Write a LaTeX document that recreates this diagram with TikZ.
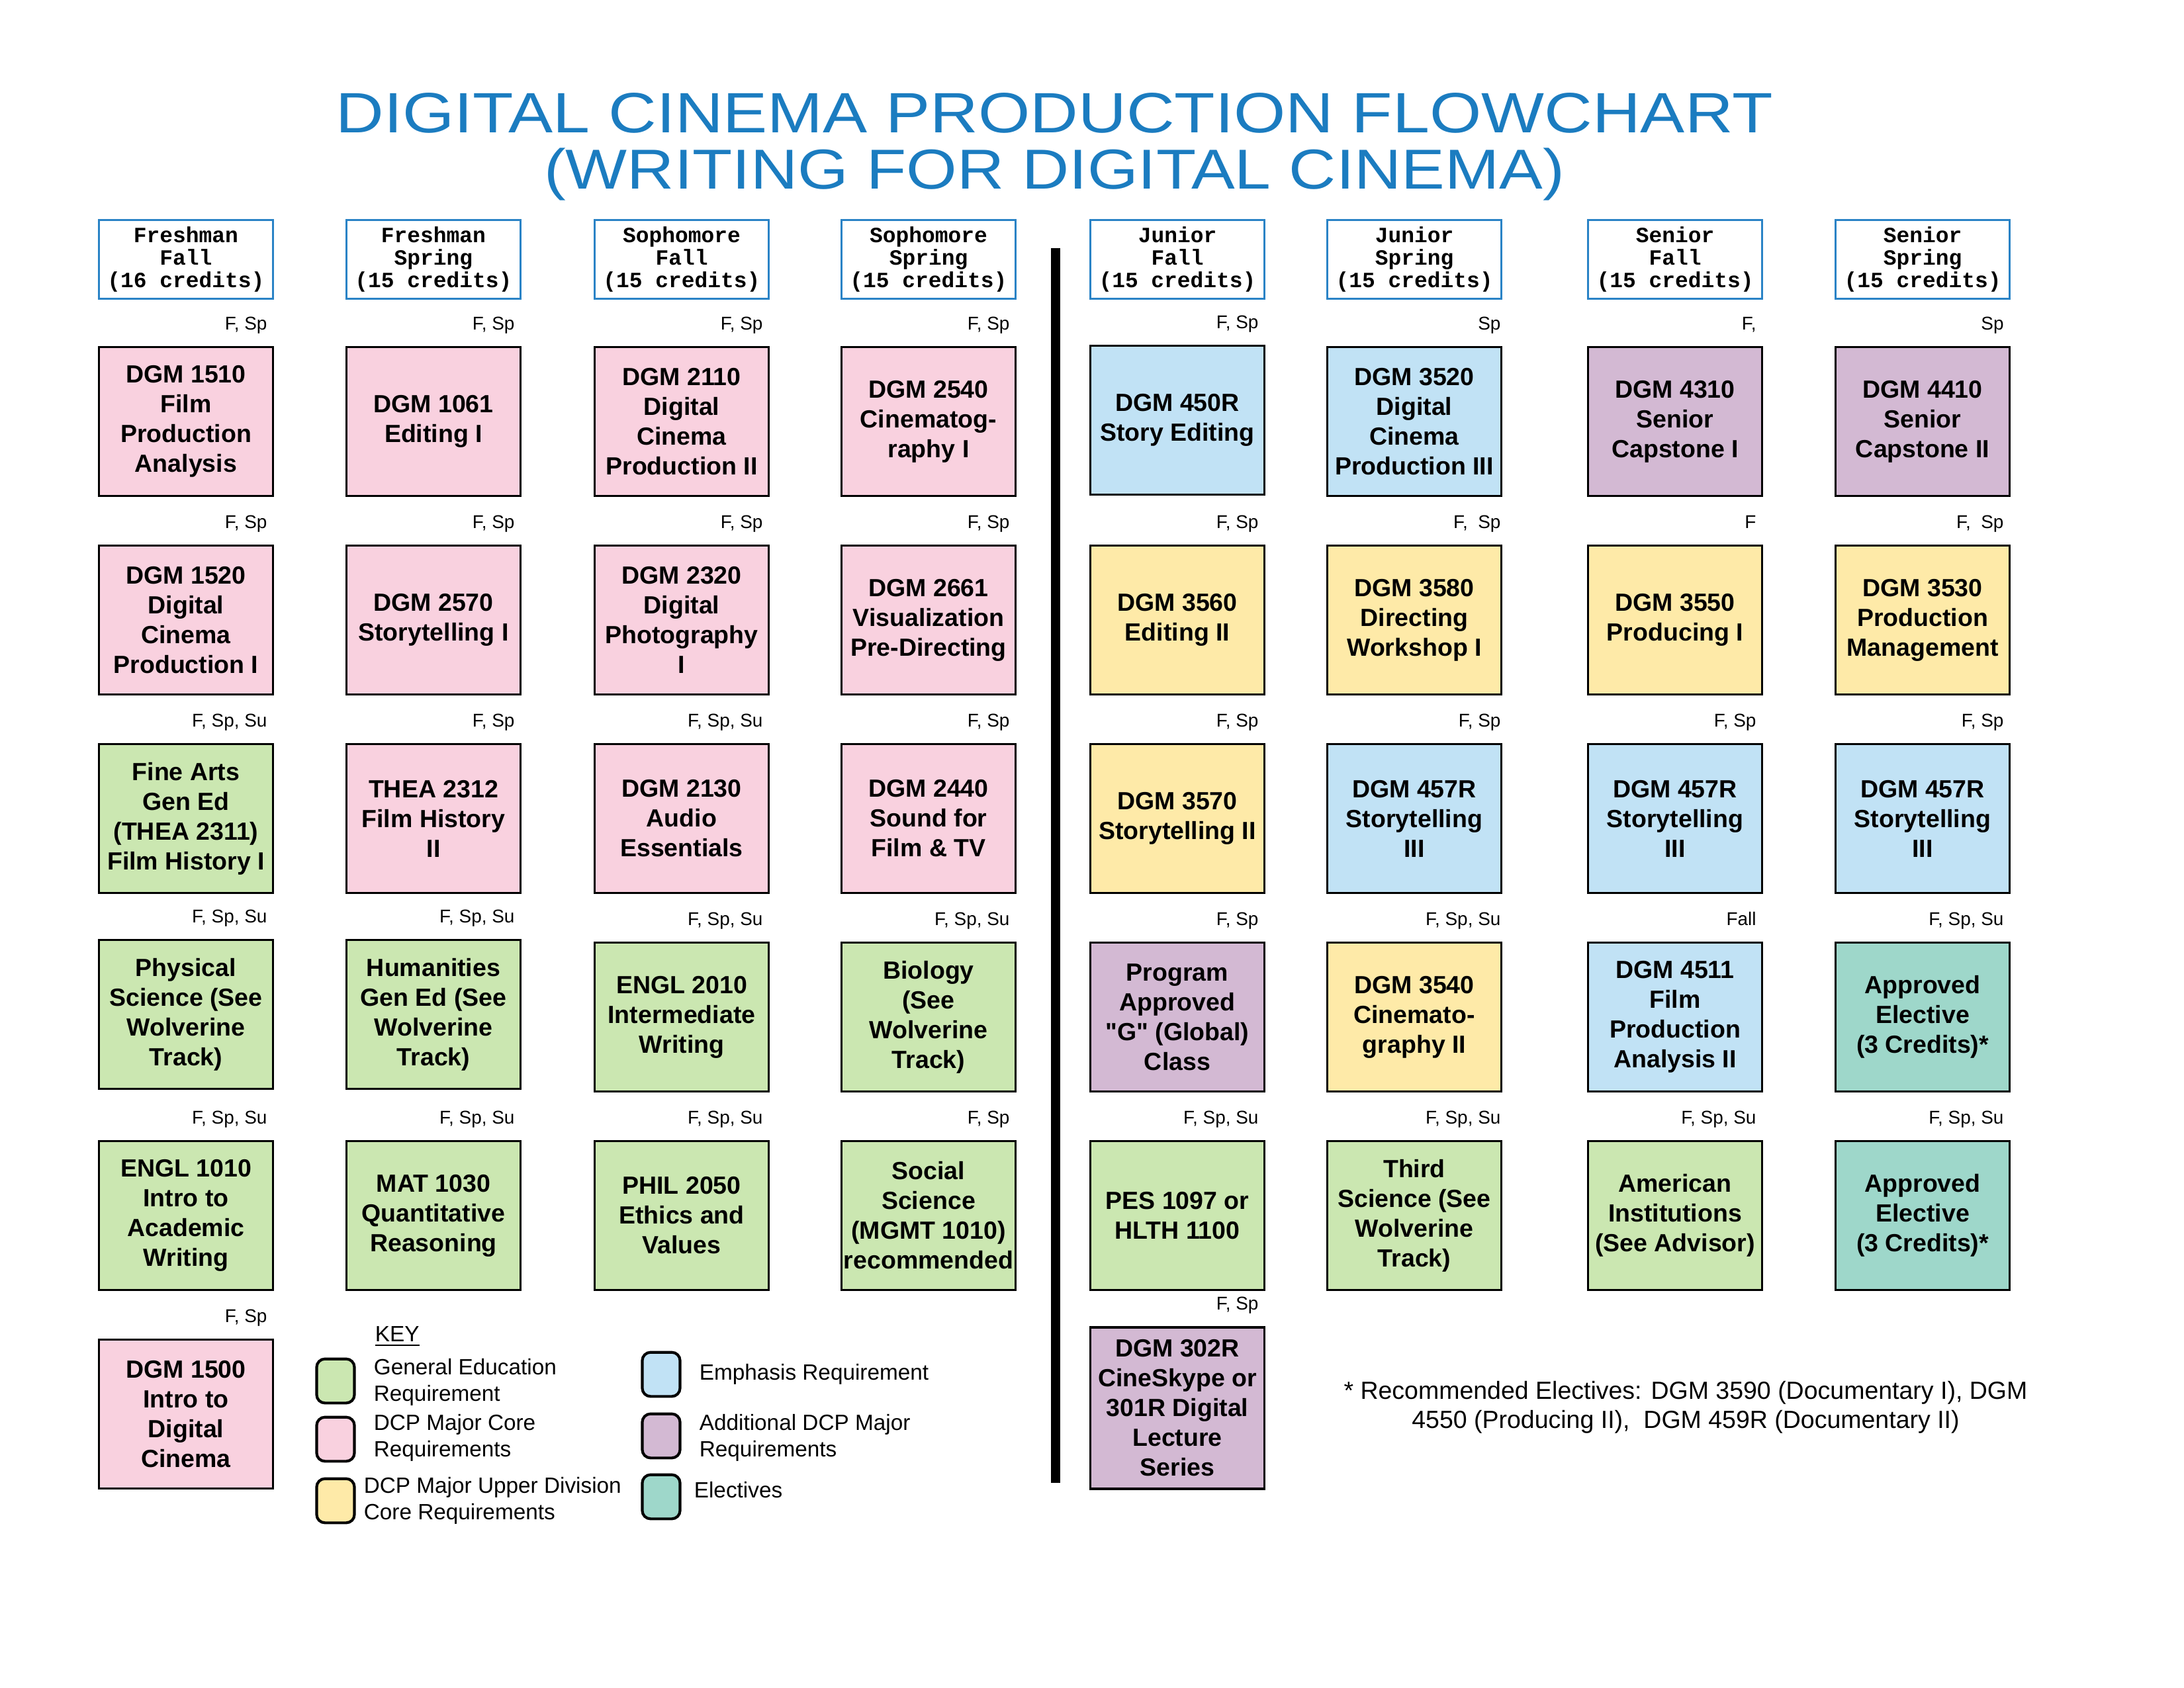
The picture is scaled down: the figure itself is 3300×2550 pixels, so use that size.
\documentclass[tikz,border=0pt]{standalone}
\usepackage{fontspec}
\setmainfont{Liberation Sans}
\newfontfamily\hdrfont{Liberation Mono}
\usepackage{xcolor}
\usetikzlibrary{calc, positioning}

\definecolor{titleblue}{HTML}{1B7CC0}
\definecolor{hdrblue}{HTML}{2A83C6}
\definecolor{corepink}{HTML}{F9D1DF}
\definecolor{genedgreen}{HTML}{CBE7B1}
\definecolor{emphblue}{HTML}{C1E2F5}
\definecolor{upperyellow}{HTML}{FEEAA8}
\definecolor{addpurple}{HTML}{D3B9D3}
\definecolor{electeal}{HTML}{9ED7CA}

\begin{document}
\begin{tikzpicture}[x=0.24pt, y=-0.24pt,
    course/.style={draw=black, line width=0.9pt, minimum width=63.1pt, minimum height=54pt,
        inner sep=0pt, align=center, font=\fontsize{9}{10.8}\selectfont\bfseries},
    core/.style={course, fill=corepink},
    gened/.style={course, fill=genedgreen},
    emph/.style={course, fill=emphblue},
    upper/.style={course, fill=upperyellow},
    addl/.style={course, fill=addpurple},
    elect/.style={course, fill=electeal},
    sem/.style={anchor=base east, inner sep=0pt, xshift=-2.4pt, yshift=5.9pt,
        font=\fontsize{6.7}{8}\selectfont},
    semr/.style={sem, xshift=1.9pt},
    term/.style={draw=hdrblue, line width=0.8pt, minimum width=63.1pt, minimum height=28.6pt,
        inner sep=0pt, align=center, font={\hdrfont\fontsize{7.9}{8.1}\selectfont\bfseries}},
    swatch/.style={draw=black, line width=1pt, rounded corners=3pt,
        minimum width=13.7pt, minimum height=16pt, inner sep=0pt},
    keytext/.style={anchor=west, inner sep=0pt, align=left, font=\fontsize{8}{9.6}\selectfont},
]
    \useasboundingbox (0,0) rectangle (3300,2550);

    % Title
    \node[text=titleblue, inner sep=0pt, anchor=base] (title1) at (1593,200)
        {\resizebox{521pt}{14.4pt}{DIGITAL CINEMA PRODUCTION FLOWCHART}};
    \node[text=titleblue, inner sep=0pt, anchor=base] (title2) at (1593,285)
        {\resizebox{370pt}{14.8pt}{(WRITING FOR DIGITAL CINEMA)}};

    % Semester headers
    \node[term] (hff) at (281,392) {Freshman\\Fall\\(16 credits)};
    \node[term] (hfs) at (655,392) {Freshman\\Spring\\(15 credits)};
    \node[term] (hsf) at (1030,392) {Sophomore\\Fall\\(15 credits)};
    \node[term] (hss) at (1403,392) {Sophomore\\Spring\\(15 credits)};
    \node[term] (hjf) at (1779,392) {Junior\\Fall\\(15 credits)};
    \node[term] (hjs) at (2137,392) {Junior\\Spring\\(15 credits)};
    \node[term] (hnf) at (2531,392) {Senior\\Fall\\(15 credits)};
    \node[term] (hns) at (2905,392) {Senior\\Spring\\(15 credits)};

    % Divider between the two halves
    \coordinate (divtop) at (1595,375);
    \coordinate (divbot) at (1595,2241);
    \draw[line width=3.4pt] (divtop) -- (divbot);

    % Freshman fall
    \node[core, label={[sem]north east:F, Sp}] (ff1) at (281,637) {DGM 1510\\Film\\Production\\Analysis};
    \node[core, label={[sem]north east:F, Sp}] (ff2) at (281,937) {DGM 1520\\Digital\\Cinema\\Production I};
    \node[gened, label={[sem]north east:F, Sp, Su}] (ff3) at (281,1237) {Fine Arts\\Gen Ed\\(THEA 2311)\\Film History I};
    \node[gened, label={[sem]north east:F, Sp, Su}] (ff4) at (281,1533) {Physical\\Science (See\\Wolverine\\Track)};
    \node[gened, label={[sem]north east:F, Sp, Su}] (ff5) at (281,1837) {ENGL 1010\\Intro to\\Academic\\Writing};
    \node[core, label={[sem]north east:F, Sp}] (ff6) at (281,2137) {DGM 1500\\Intro to\\Digital\\Cinema};

    % Freshman spring
    \node[core, label={[sem]north east:F, Sp}] (fs1) at (655,637) {DGM 1061\\Editing I};
    \node[core, label={[sem]north east:F, Sp}] (fs2) at (655,937) {DGM 2570\\Storytelling I};
    \node[core, label={[sem]north east:F, Sp}] (fs3) at (655,1237) {THEA 2312\\Film History\\II};
    \node[gened, label={[sem]north east:F, Sp, Su}] (fs4) at (655,1533) {Humanities\\Gen Ed (See\\Wolverine\\Track)};
    \node[gened, label={[sem]north east:F, Sp, Su}] (fs5) at (655,1837) {MAT 1030\\Quantitative\\Reasoning};

    % Sophomore fall
    \node[core, label={[sem]north east:F, Sp}] (sf1) at (1030,637) {DGM 2110\\Digital\\Cinema\\Production II};
    \node[core, label={[sem]north east:F, Sp}] (sf2) at (1030,937) {DGM 2320\\Digital\\Photography\\I};
    \node[core, label={[sem]north east:F, Sp, Su}] (sf3) at (1030,1237) {DGM 2130\\Audio\\Essentials};
    \node[gened, label={[sem]north east:F, Sp, Su}] (sf4) at (1030,1537) {ENGL 2010\\Intermediate\\Writing};
    \node[gened, label={[sem]north east:F, Sp, Su}] (sf5) at (1030,1837) {PHIL 2050\\Ethics and\\Values};

    % Sophomore spring
    \node[core, label={[sem]north east:F, Sp}] (ss1) at (1403,637) {DGM 2540\\Cinematog-\\raphy I};
    \node[core, label={[sem]north east:F, Sp}] (ss2) at (1403,937) {DGM 2661\\Visualization\\Pre-Directing};
    \node[core, label={[sem]north east:F, Sp}] (ss3) at (1403,1237) {DGM 2440\\Sound for\\Film \& TV};
    \node[gened, label={[sem]north east:F, Sp, Su}] (ss4) at (1403,1537) {Biology\\(See\\Wolverine\\Track)};
    \node[gened, label={[sem]north east:F, Sp}] (ss5) at (1403,1837) {Social\\Science\\(MGMT 1010)\\recommended};

    % Junior fall
    \node[emph, label={[sem]north east:F, Sp}] (jf1) at (1779,635) {DGM 450R\\Story Editing};
    \node[upper, label={[sem]north east:F, Sp}] (jf2) at (1779,937) {DGM 3560\\Editing II};
    \node[upper, label={[sem]north east:F, Sp}] (jf3) at (1779,1237) {DGM 3570\\Storytelling II};
    \node[addl, label={[sem]north east:F, Sp}] (jf4) at (1779,1537) {Program\\Approved\\\textquotedbl G\textquotedbl{} (Global)\\Class};
    \node[gened, label={[sem]north east:F, Sp, Su}] (jf5) at (1779,1837) {PES 1097 or\\HLTH 1100};
    \node[addl, minimum height=58.6pt, label={[sem]north east:F, Sp}] (jf6) at (1779,2128) {DGM 302R\\CineSkype or\\301R Digital\\Lecture\\Series};

    % Junior spring
    \node[emph, label={[semr]north east:Sp}] (js1) at (2137,637) {DGM 3520\\Digital\\Cinema\\Production III};
    \node[upper, label={[semr]north east:F,\ \ Sp}] (js2) at (2137,937) {DGM 3580\\Directing\\Workshop I};
    \node[emph, label={[semr]north east:F, Sp}] (js3) at (2137,1237) {DGM 457R\\Storytelling\\III};
    \node[upper, label={[semr]north east:F, Sp, Su}] (js4) at (2137,1537) {DGM 3540\\Cinemato-\\graphy II};
    \node[gened, label={[semr]north east:F, Sp, Su}] (js5) at (2137,1837) {Third\\Science (See\\Wolverine\\Track)};

    % Senior fall
    \node[addl, label={[sem]north east:F,}] (nf1) at (2531,637) {DGM 4310\\Senior\\Capstone I};
    \node[upper, label={[sem]north east:F}] (nf2) at (2531,937) {DGM 3550\\Producing I};
    \node[emph, label={[sem]north east:F, Sp}] (nf3) at (2531,1237) {DGM 457R\\Storytelling\\III};
    \node[emph, label={[sem]north east:Fall}] (nf4) at (2531,1537) {DGM 4511\\Film\\Production\\Analysis II};
    \node[gened, label={[sem]north east:F, Sp, Su}] (nf5) at (2531,1837) {American\\Institutions\\(See Advisor)};

    % Senior spring
    \node[addl, label={[sem]north east:Sp}] (ns1) at (2905,637) {DGM 4410\\Senior\\Capstone II};
    \node[upper, label={[sem]north east:F,\ \ Sp}] (ns2) at (2905,937) {DGM 3530\\Production\\Management};
    \node[emph, label={[sem]north east:F, Sp}] (ns3) at (2905,1237) {DGM 457R\\Storytelling\\III};
    \node[elect, label={[sem]north east:F, Sp, Su}] (ns4) at (2905,1537) {Approved\\Elective\\(3 Credits)*};
    \node[elect, label={[sem]north east:F, Sp, Su}] (ns5) at (2905,1837) {Approved\\Elective\\(3 Credits)*};

    % Key
    \node[keytext] (keyhead) at (566,2020) {\underline{KEY}};
    \node[swatch, fill=genedgreen] (kgen) at (507,2087) {};
    \node[keytext] (kgent) at (564,2089) {General Education\\Requirement};
    \node[swatch, fill=corepink] (kcore) at (507,2175) {};
    \node[keytext] (kcoret) at (564,2173) {DCP Major Core\\Requirements};
    \node[swatch, fill=upperyellow] (kupper) at (507,2268) {};
    \node[keytext] (kuppert) at (549,2268) {DCP Major Upper Division\\Core Requirements};
    \node[swatch, fill=emphblue] (kemph) at (999,2077) {};
    \node[keytext] (kempht) at (1056,2077) {Emphasis Requirement};
    \node[swatch, fill=addpurple] (kaddl) at (999,2170) {};
    \node[keytext] (kaddlt) at (1056,2173) {Additional DCP Major\\Requirements};
    \node[swatch, fill=electeal] (kelect) at (999,2262) {};
    \node[keytext] (kelectt) at (1048,2252) {Electives};

    % Footnote
    \node[align=center, inner sep=0pt, font=\fontsize{9}{10.6}\selectfont] (recnote) at (2547,2127)
        {* Recommended Electives: DGM 3590 (Documentary I), DGM\\4550 (Producing II),\ \ DGM 459R (Documentary II)};
\end{tikzpicture}
\end{document}
